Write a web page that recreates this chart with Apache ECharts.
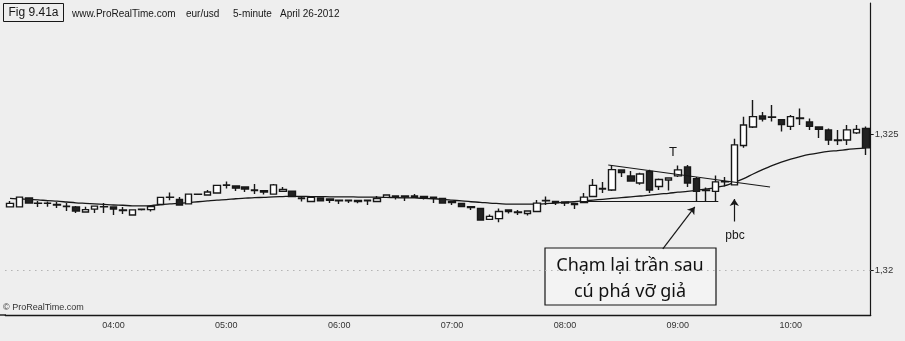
<!DOCTYPE html>
<html><head><meta charset="utf-8">
<script src="https://cdn.jsdelivr.net/npm/echarts@6/dist/echarts.min.js"></script>
<style>html,body{margin:0;padding:0;background:#eeeeee}#c{width:905px;height:341px}</style>
</head><body><div id="c"></div>
<script>
// ---- data (EUR/USD 5-minute, April 26 2012) ----
const firstBar = '03:05';
const barMinutes = 5;
const opens = [
1.32232,1.32232,1.32265,1.32246,1.32245,1.32241,1.32235,1.32232,1.32213,1.32224,
1.32233,1.32232,1.32221,1.32202,1.32222,1.32222,1.32241,1.32267,1.32259,1.32243,
1.32278,1.32276,1.32283,1.32311,1.32309,1.32305,1.32294,1.32292,1.32279,1.32289,
1.32290,1.32265,1.32252,1.32265,1.32261,1.32257,1.32257,1.32256,1.32257,1.32252,
1.32267,1.32272,1.32272,1.32267,1.32270,1.32268,1.32263,1.32252,1.32245,1.32233,
1.32226,1.32186,1.32189,1.32221,1.32211,1.32208,1.32215,1.32254,1.32252,1.32250,
1.32245,1.32248,1.32270,1.32298,1.32294,1.32368,1.32346,1.32320,1.32362,1.32307,
1.32331,1.32346,1.32379,1.32336,1.32292,1.32289,1.32324,1.32313,1.32458,1.32526,
1.32566,1.32561,1.32553,1.32528,1.32557,1.32544,1.32526,1.32515,1.32476,1.32478,
1.32504,1.32520];
const closes = [
1.32245,1.32268,1.32246,1.32245,1.32246,1.32239,1.32233,1.32217,1.32222,1.32235,
1.32232,1.32224,1.32219,1.32221,1.32224,1.32233,1.32267,1.32268,1.32239,1.32279,
1.32279,1.32287,1.32311,1.32313,1.32301,1.32298,1.32292,1.32287,1.32313,1.32296,
1.32270,1.32263,1.32267,1.32254,1.32256,1.32254,1.32254,1.32252,1.32254,1.32263,
1.32276,1.32268,1.32268,1.32272,1.32267,1.32265,1.32246,1.32248,1.32233,1.32230,
1.32184,1.32197,1.32215,1.32215,1.32213,1.32217,1.32246,1.32256,1.32248,1.32246,
1.32241,1.32268,1.32311,1.32300,1.32369,1.32358,1.32327,1.32353,1.32294,1.32333,
1.32338,1.32368,1.32320,1.32289,1.32294,1.32324,1.32325,1.32460,1.32533,1.32564,
1.32555,1.32563,1.32535,1.32564,1.32559,1.32528,1.32517,1.32478,1.32478,1.32515,
1.32517,1.32449];
const lows = [
1.32230,1.32230,1.32245,1.32232,1.32233,1.32228,1.32217,1.32210,1.32211,1.32210,
1.32210,1.32202,1.32206,1.32200,1.32219,1.32215,1.32239,1.32256,1.32237,1.32241,
1.32276,1.32274,1.32281,1.32300,1.32290,1.32287,1.32279,1.32278,1.32278,1.32287,
1.32268,1.32252,1.32250,1.32252,1.32246,1.32243,1.32246,1.32245,1.32239,1.32250,
1.32265,1.32259,1.32254,1.32265,1.32259,1.32246,1.32245,1.32239,1.32232,1.32221,
1.32182,1.32184,1.32176,1.32208,1.32202,1.32200,1.32213,1.32239,1.32239,1.32235,
1.32224,1.32246,1.32268,1.32283,1.32290,1.32342,1.32325,1.32313,1.32283,1.32294,
1.32292,1.32342,1.32305,1.32254,1.32252,1.32252,1.32307,1.32311,1.32449,1.32522,
1.32546,1.32546,1.32509,1.32515,1.32533,1.32515,1.32485,1.32460,1.32460,1.32460,
1.32500,1.32423];
const highs = [
1.32254,1.32270,1.32267,1.32254,1.32252,1.32250,1.32246,1.32235,1.32233,1.32237,
1.32246,1.32233,1.32232,1.32222,1.32226,1.32235,1.32268,1.32285,1.32268,1.32281,
1.32281,1.32294,1.32313,1.32325,1.32311,1.32307,1.32316,1.32294,1.32316,1.32305,
1.32292,1.32272,1.32268,1.32267,1.32261,1.32259,1.32259,1.32257,1.32259,1.32272,
1.32278,1.32274,1.32274,1.32279,1.32272,1.32270,1.32265,1.32254,1.32246,1.32235,
1.32228,1.32204,1.32226,1.32222,1.32221,1.32219,1.32257,1.32270,1.32254,1.32252,
1.32246,1.32283,1.32335,1.32324,1.32386,1.32369,1.32364,1.32358,1.32369,1.32336,
1.32340,1.32384,1.32386,1.32342,1.32303,1.32347,1.32342,1.32483,1.32563,1.32625,
1.32581,1.32607,1.32555,1.32570,1.32594,1.32557,1.32528,1.32520,1.32515,1.32533,
1.32533,1.32528];
const movingAverage = [
1.32263,1.32261,1.32260,1.32258,1.32255,1.32253,1.32250,1.32247,1.32245,1.32243,
1.32241,1.32239,1.32238,1.32236,1.32236,1.32237,1.32240,1.32243,1.32245,1.32248,
1.32251,1.32254,1.32257,1.32259,1.32262,1.32264,1.32266,1.32267,1.32269,1.32270,
1.32271,1.32271,1.32270,1.32270,1.32269,1.32269,1.32269,1.32268,1.32268,1.32268,
1.32267,1.32266,1.32265,1.32265,1.32263,1.32262,1.32260,1.32257,1.32254,1.32251,
1.32249,1.32246,1.32244,1.32242,1.32242,1.32242,1.32242,1.32244,1.32246,1.32249,
1.32251,1.32254,1.32257,1.32260,1.32263,1.32266,1.32269,1.32272,1.32275,1.32279,
1.32282,1.32286,1.32289,1.32293,1.32298,1.32303,1.32310,1.32322,1.32336,1.32353,
1.32369,1.32384,1.32397,1.32408,1.32417,1.32425,1.32431,1.32436,1.32439,1.32443,
1.32446,1.32449];
const yTicks = [1.32, 1.325];
// annotation lines, in [bar index, price]
const resistanceLine = [[63.6, 1.32386], [80.8, 1.32305]];
const supportLine = [[60.6, 1.32252], [75.3, 1.32252]];
const boxArrow = [[69.4, 1.32078], [72.8, 1.32232]];
const pbcArrow = [[77, 1.32178], [77, 1.32261]];

// ---- build ----
const categories = [];
{
  let [h, m] = firstBar.split(':').map(Number);
  for (let i = 0; i < opens.length; i++) {
    categories.push(String(h).padStart(2, '0') + ':' + String(m).padStart(2, '0'));
    m += barMinutes; if (m >= 60) { m -= 60; h += 1; }
  }
}
const candles = opens.map((o, i) => [o, closes[i], lows[i], highs[i]]);
const isHour = (idx) => categories[idx].endsWith(':00');
const ink = '#171717';
const FONT = '"Liberation Sans", Arial, sans-serif';

const chart = echarts.init(document.getElementById('c'), null, {renderer: 'canvas'});
chart.setOption({
  backgroundColor: '#eeeeee',
  animation: false,
  grid: {left: 5.3, right: 34.3, top: 3, bottom: 26},
  xAxis: [{
    type: 'category', data: categories, boundaryGap: true,
    axisLine: {onZero: false, lineStyle: {color: ink, width: 1.4}},
    axisTick: {interval: (i) => isHour(i), alignWithLabel: true, length: 3, lineStyle: {color: '#555'}},
    axisLabel: {interval: (i) => isHour(i), fontSize: 9, color: '#333', margin: 6, fontFamily: FONT},
    splitLine: {show: false}
  }, {
    type: 'value', min: -0.5, max: opens.length - 0.5, show: false
  }],
  yAxis: [{
    type: 'value', position: 'right', scale: true,
    min: 1.318346, max: 1.329816,
    axisLine: {show: true, onZero: false, lineStyle: {color: ink, width: 1.2}},
    axisTick: {show: true, customValues: yTicks, length: 3, lineStyle: {color: ink}},
    axisLabel: {customValues: yTicks, fontSize: 9.5, color: '#333', margin: 4, fontFamily: FONT,
      formatter: (v) => String(v).replace('.', ',')},
    splitLine: {show: false}
  }],
  series: [{
    type: 'candlestick', data: candles, barWidth: 7,
    itemStyle: {color: '#ffffff', color0: '#222222', borderColor: ink, borderColor0: ink, borderWidth: 1.4,
      borderColorDoji: ink}
  }, {
    type: 'line', data: movingAverage, symbol: 'none', smooth: 0.3,
    lineStyle: {color: ink, width: 1.3}, z: 1,
    markLine: {silent: true, symbol: 'none', label: {show: false},
      lineStyle: {type: [1, 5], color: '#b0b0b0', width: 1},
      data: yTicks.map(v => ({yAxis: v}))}
  }, {
    type: 'line', xAxisIndex: 1, data: resistanceLine, symbol: 'none',
    lineStyle: {color: ink, width: 1.1}
  }, {
    type: 'line', xAxisIndex: 1, data: supportLine, symbol: 'none',
    lineStyle: {color: ink, width: 1.1}
  }, {
    type: 'lines', coordinateSystem: 'cartesian2d', xAxisIndex: 1, yAxisIndex: 0,
    symbol: ['none', 'arrow'], symbolSize: 7,
    lineStyle: {color: ink, width: 1.2, opacity: 1},
    data: [{coords: boxArrow}, {coords: pbcArrow}]
  }],
  graphic: [
    {type: 'line', shape: {x1: 0, y1: 315, x2: 6, y2: 315}, style: {stroke: ink, lineWidth: 1.4}},
    {type: 'rect', shape: {x: 3.5, y: 3.5, width: 60, height: 18}, style: {fill: 'none', stroke: ink, lineWidth: 1}},
    {type: 'text', x: 33.5, y: 12.5, style: {text: 'Fig 9.41a', font: '12px ' + FONT, fill: ink, textAlign: 'center', textVerticalAlign: 'middle'}},
    {type: 'text', x: 72, y: 14, style: {text: 'www.ProRealTime.com', font: '10px ' + FONT, fill: ink, textVerticalAlign: 'middle'}},
    {type: 'text', x: 186, y: 14, style: {text: 'eur/usd', font: '10px ' + FONT, fill: ink, textVerticalAlign: 'middle'}},
    {type: 'text', x: 233, y: 14, style: {text: '5-minute', font: '10px ' + FONT, fill: ink, textVerticalAlign: 'middle'}},
    {type: 'text', x: 280, y: 14, style: {text: 'April 26-2012', font: '10px ' + FONT, fill: ink, textVerticalAlign: 'middle'}},
    {type: 'text', x: 3, y: 308, style: {text: '© ProRealTime.com', font: '9px ' + FONT, fill: '#333', textVerticalAlign: 'middle'}},
    {type: 'rect', shape: {x: 545, y: 248, width: 171, height: 57}, style: {fill: '#f3f3f3', stroke: ink, lineWidth: 1.2}},
    {type: 'text', x: 630, y: 266, style: {text: 'Chạm lại trần sau', font: '18px "Noto Sans"', fill: '#111', textAlign: 'center', textVerticalAlign: 'middle'}},
    {type: 'text', x: 630, y: 292, style: {text: 'cú phá vỡ giả', font: '18px "Noto Sans"', fill: '#111', textAlign: 'center', textVerticalAlign: 'middle'}},
    {type: 'text', x: 673, y: 152, style: {text: 'T', font: '13px ' + FONT, fill: ink, textAlign: 'center', textVerticalAlign: 'middle'}},
    {type: 'text', x: 735, y: 236, style: {text: 'pbc', font: '12px ' + FONT, fill: ink, textAlign: 'center', textVerticalAlign: 'middle'}}
  ]
});
</script></body></html>
